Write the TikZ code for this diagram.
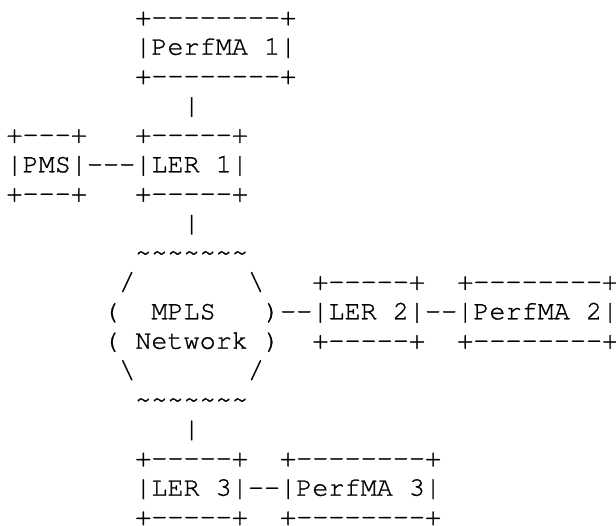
\documentclass[tikz,border=0pt]{standalone}
\usepackage{fontspec}
\setmonofont{TeX Gyre Cursor}[FakeBold=1]
\tikzset{
  row/.style={anchor=base west, inner sep=0pt, outer sep=0pt,
    font=\ttfamily\fontsize{26.83}{29.4}\selectfont}
}
\newcommand\tld{\textasciitilde}
\newcommand\bsl{\textbackslash}
\begin{document}
\begin{tikzpicture}[x=1pt,y=-1pt]
\useasboundingbox (0,0) rectangle (616,525);
% PerfMA 1 box
\node[row] (r1) at (6.5,25.3)  {~~~~~~~~+--------+};
\node[row] (r2) at (6.5,54.7)  {~~~~~~~~|PerfMA~1|};
\node[row] (r3) at (6.5,84.1)  {~~~~~~~~+--------+};
\node[row] (r4) at (6.5,113.5) {~~~~~~~~~~~|};
% PMS and LER 1
\node[row] (r5) at (6.5,142.9) {+---+~~~+-----+};
\node[row] (r6) at (6.5,172.3) {|PMS|---|LER~1|};
\node[row] (r7) at (6.5,201.7) {+---+~~~+-----+};
\node[row] (r8) at (6.5,231.1) {~~~~~~~~~~~|};
% MPLS cloud with LER 2 and PerfMA 2
\node[row] (r9)  at (6.5,260.5) {~~~~~~~~\tld\tld\tld\tld\tld\tld\tld};
\node[row] (r10) at (6.5,289.9) {~~~~~~~/~~~~~~~\bsl~~~+-----+~~+--------+};
\node[row] (r11) at (6.5,319.3) {~~~~~~(~~MPLS~~~)--|LER~2|--|PerfMA~2|};
\node[row] (r12) at (6.5,348.7) {~~~~~~(~Network~)~~+-----+~~+--------+};
\node[row] (r13) at (6.5,378.1) {~~~~~~~\bsl~~~~~~~/};
\node[row] (r14) at (6.5,407.5) {~~~~~~~~\tld\tld\tld\tld\tld\tld\tld};
\node[row] (r15) at (6.5,436.9) {~~~~~~~~~~~|};
% LER 3 and PerfMA 3
\node[row] (r16) at (6.5,466.3) {~~~~~~~~+-----+~~+--------+};
\node[row] (r17) at (6.5,495.7) {~~~~~~~~|LER~3|--|PerfMA~3|};
\node[row] (r18) at (6.5,525.1) {~~~~~~~~+-----+~~+--------+};
\end{tikzpicture}
\end{document}
